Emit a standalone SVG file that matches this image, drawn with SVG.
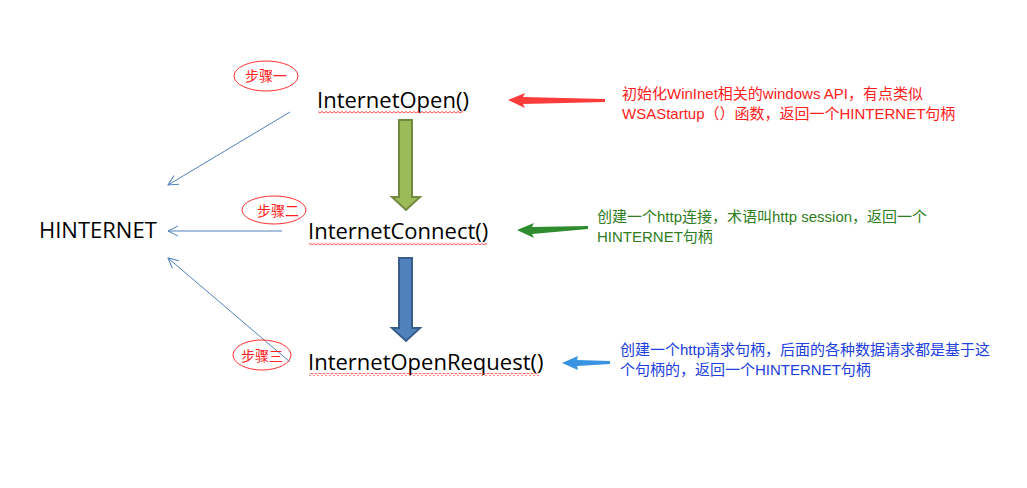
<svg xmlns="http://www.w3.org/2000/svg" width="1027" height="488" viewBox="0 0 1027 488">
<defs>
<marker id="open" markerWidth="12" markerHeight="12" refX="11" refY="6" orient="auto" markerUnits="userSpaceOnUse"><path d="M1,1 L11,6 L1,11" fill="none" stroke="#4f81bd" stroke-width="1"/></marker>
<pattern id="wavy" width="4" height="3" patternUnits="userSpaceOnUse"><path d="M0,2 L2,0.5 L4,2" fill="none" stroke="#ff2020" stroke-width="0.8"/></pattern>
</defs>
<style>
.fn{font-family:"Open Sans","Noto Sans",sans-serif;font-size:22px;fill:#000}
.step{font-family:"Noto Sans CJK SC",sans-serif;font-size:14px;fill:#ff2020}
.ell{fill:none;stroke:#ff3030;stroke-width:1}
.note{font-family:"Liberation Sans","Noto Sans CJK SC",sans-serif;font-size:15px}
.wav{fill:url(#wavy)}
</style>
<rect width="1027" height="488" fill="#fff"/>
<g id="connectors">
<line x1="290" y1="112" x2="168" y2="185" stroke="#4f81bd" marker-end="url(#open)"/>
<line x1="282" y1="231" x2="168" y2="231" stroke="#4f81bd" marker-end="url(#open)"/>
<line x1="290" y1="362" x2="168" y2="258" stroke="#4f81bd" marker-end="url(#open)"/>
<path d="M399,120 H412 V197 H420 L406,210 L392,197 H399 Z" fill="#9bbb59" stroke="#71893f" stroke-width="2"/>
<path d="M399,258 H412 V328 H420 L406,341 L392,328 H399 Z" fill="#4f81bd" stroke="#385d8a" stroke-width="2"/>
<path d="M508,100 L525,93 L523,97 L605,99 L605,102 L523,104 L525,108 Z" fill="#ff3b3b"/>
<path d="M517,230 L534,223 L532,227 L588,226 L588,229 L532,234 L534,238 Z" fill="#2e8b2e"/>
<path d="M562,363 L578,356 L577,360 L610,361 L610,364 L577,366 L578,370 Z" fill="#3a93e0"/>
</g>
<g id="hinternet"><text x="39" y="238" class="fn">HINTERNET</text></g>
<g id="open1"><text x="317" y="108" class="fn">InternetOpen()</text><rect x="318" y="111" width="145" height="3" class="wav"/></g>
<g id="connect"><text x="308" y="239" class="fn">InternetConnect()</text><rect x="309" y="242" width="178" height="3" class="wav"/></g>
<g id="request"><text x="308" y="370" class="fn">InternetOpenRequest()</text><rect x="309" y="373" width="230" height="3" class="wav"/></g>
<g id="step1"><ellipse cx="266" cy="76" rx="32" ry="15" class="ell"/><text x="266" y="81" class="step" text-anchor="middle">步骤一</text></g>
<g id="step2"><ellipse cx="274" cy="210" rx="32" ry="14" class="ell"/><text x="278" y="216" class="step" font-size="16" text-anchor="middle">步骤二</text></g>
<g id="step3"><ellipse cx="262" cy="355" rx="29" ry="15" class="ell"/><text x="262" y="361" class="step" font-size="16" text-anchor="middle">步骤三</text></g>
<g id="note1" class="note" fill="#ff2020"><text x="622" y="99">初始化WinInet相关的windows API，有点类似</text><text x="622" y="119">WSAStartup（）函数，返回一个HINTERNET句柄</text></g>
<g id="note2" class="note" fill="#2e7d1e"><text x="597" y="222">创建一个http连接，术语叫http session，返回一个</text><text x="597" y="242">HINTERNET句柄</text></g>
<g id="note3" class="note" fill="#2040e0"><text x="620" y="355">创建一个http请求句柄，后面的各种数据请求都是基于这</text><text x="620" y="375">个句柄的，返回一个HINTERNET句柄</text></g>
</svg>
